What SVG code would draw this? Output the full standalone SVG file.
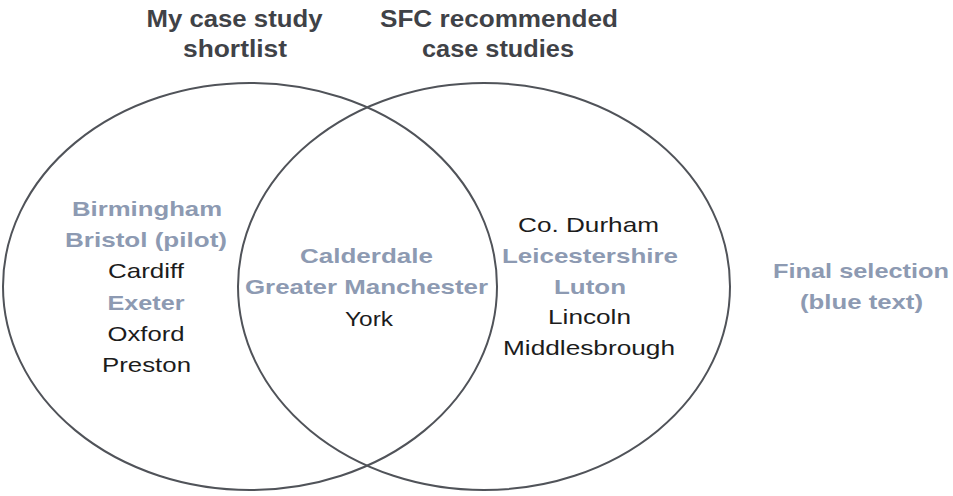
<svg xmlns="http://www.w3.org/2000/svg" width="953" height="496" viewBox="0 0 953 496">
<style>
.circ{fill:none;stroke:#505359;stroke-width:2}
text{font-family:"Liberation Sans",Arial,sans-serif;text-anchor:middle}
.title{font-size:23px;font-weight:bold;fill:#3f4247}
.sel{font-size:21px;font-weight:bold;fill:#8d9ab2}
.plain{font-size:21px;fill:#1c1c1c}
</style>
<rect width="953" height="496" fill="#ffffff"/>
<g id="set-shortlist">
<ellipse class="circ" cx="250" cy="286.5" rx="247" ry="203.5"/>
<text class="title" x="234.5" y="27" textLength="176" lengthAdjust="spacingAndGlyphs">My case study</text>
<text class="title" x="235" y="57" textLength="104" lengthAdjust="spacingAndGlyphs">shortlist</text>
</g>
<g id="set-sfc">
<ellipse class="circ" cx="484" cy="286.5" rx="246" ry="203.5"/>
<text class="title" x="499" y="27" textLength="238" lengthAdjust="spacingAndGlyphs">SFC recommended</text>
<text class="title" x="498" y="57" textLength="152" lengthAdjust="spacingAndGlyphs">case studies</text>
</g>
<g id="left-only">
<text class="sel" x="147" y="216" textLength="150" lengthAdjust="spacingAndGlyphs">Birmingham</text>
<text class="sel" x="146" y="247" textLength="162" lengthAdjust="spacingAndGlyphs">Bristol (pilot)</text>
<text class="plain" x="146" y="278" textLength="76" lengthAdjust="spacingAndGlyphs">Cardiff</text>
<text class="sel" x="146" y="310" textLength="77" lengthAdjust="spacingAndGlyphs">Exeter</text>
<text class="plain" x="146" y="341" textLength="77" lengthAdjust="spacingAndGlyphs">Oxford</text>
<text class="plain" x="146.5" y="372" textLength="89" lengthAdjust="spacingAndGlyphs">Preston</text>
</g>
<g id="overlap">
<text class="sel" x="366.5" y="263" textLength="133" lengthAdjust="spacingAndGlyphs">Calderdale</text>
<text class="sel" x="366.5" y="294" textLength="243" lengthAdjust="spacingAndGlyphs">Greater Manchester</text>
<text class="plain" x="369" y="326" textLength="48" lengthAdjust="spacingAndGlyphs">York</text>
</g>
<g id="right-only">
<text class="plain" x="588.5" y="232" textLength="141" lengthAdjust="spacingAndGlyphs">Co. Durham</text>
<text class="sel" x="590" y="263" textLength="176" lengthAdjust="spacingAndGlyphs">Leicestershire</text>
<text class="sel" x="590" y="294" textLength="72" lengthAdjust="spacingAndGlyphs">Luton</text>
<text class="plain" x="589.5" y="324" textLength="83" lengthAdjust="spacingAndGlyphs">Lincoln</text>
<text class="plain" x="589" y="355" textLength="172" lengthAdjust="spacingAndGlyphs">Middlesbrough</text>
</g>
<g id="legend">
<text class="sel" x="861" y="278" textLength="176" lengthAdjust="spacingAndGlyphs">Final selection</text>
<text class="sel" x="861.5" y="309" textLength="123" lengthAdjust="spacingAndGlyphs">(blue text)</text>
</g>
<g id="connectors"></g>
</svg>
